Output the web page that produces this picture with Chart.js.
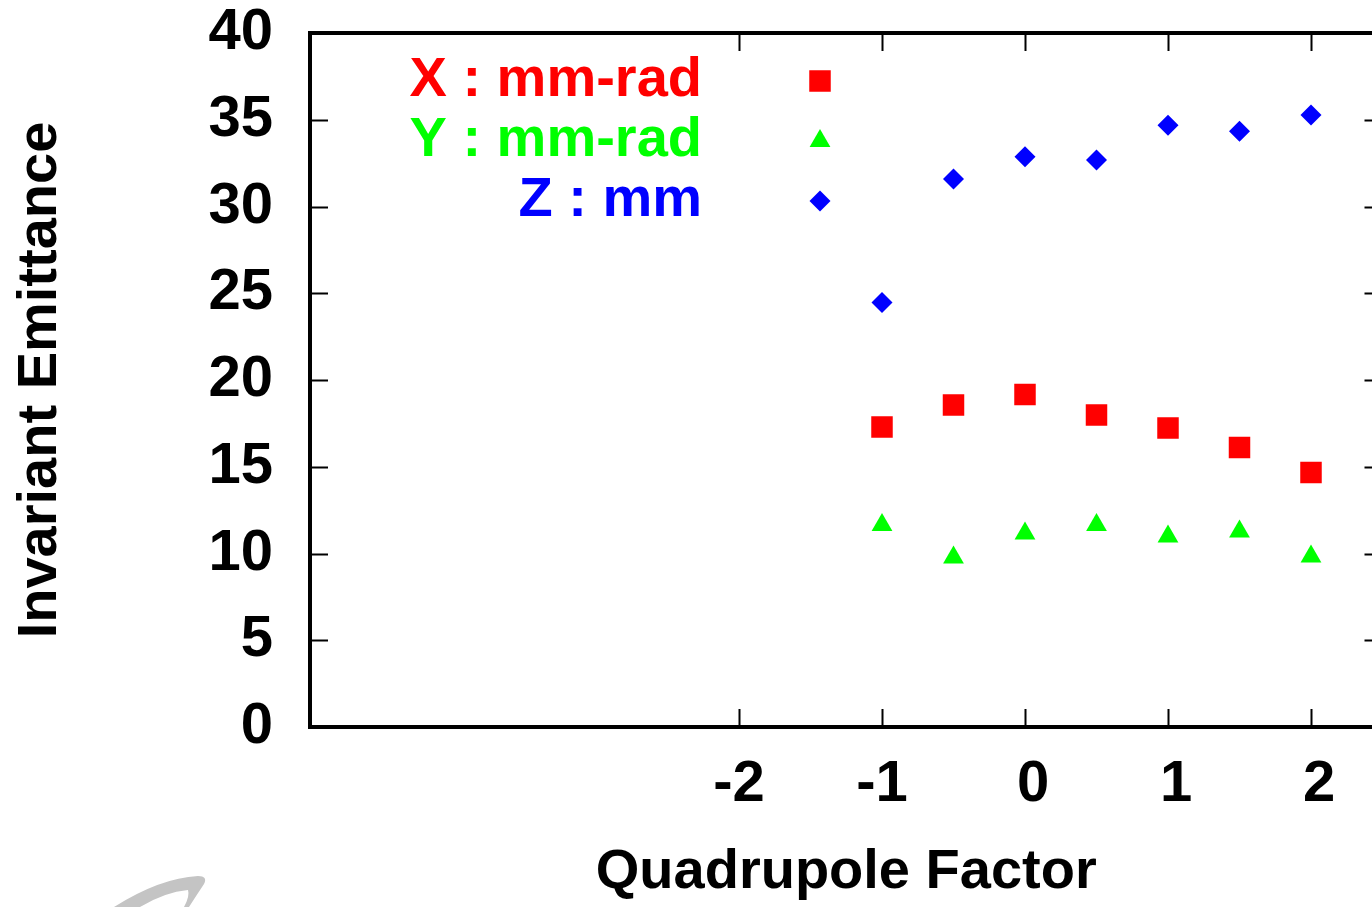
<!DOCTYPE html>
<html>
<head>
<meta charset="utf-8">
<script src="https://cdn.jsdelivr.net/npm/chart.js@4/dist/chart.umd.min.js"></script>
<style>
html,body{margin:0;padding:0;background:#fff;overflow:hidden;width:1372px;height:907px}
canvas{display:block}
</style>
</head>
<body>
<canvas id="c" width="1400" height="907" style="width:1400px;height:907px"></canvas>
<script>
// ---- data ----
const quadFactor = [-1, -0.5, 0, 0.5, 1, 1.5, 2];
const emitX = [17.29, 18.56, 19.16, 17.98, 17.23, 16.11, 14.67];
const emitY = [11.64, 9.77, 11.15, 11.64, 10.98, 11.27, 9.83];
const emitZ = [24.47, 31.58, 32.87, 32.68, 34.68, 34.33, 35.27];
const seriesNames = ['X : mm-rad', 'Y : mm-rad', 'Z : mm'];
const seriesColors = ['#ff0000', '#00ff00', '#0000ff'];
const xTickValues = [-2, -1, 0, 1, 2];
const xTickLabels = ['-2', '-1', ' 0', ' 1', ' 2'];
const yTickValues = [0, 5, 10, 15, 20, 25, 30, 35, 40];
const yTickLabels = ['0', '5', '10', '15', '20', '25', '30', '35', '40'];
const xTitle = 'Quadrupole Factor';
const yTitle = 'Invariant Emittance';

const FONT = "'Liberation Sans', Arial, Helvetica, sans-serif";

function pts(ys) { return quadFactor.map((x, i) => ({ x: x, y: ys[i] })); }

const framePlugin = {
  id: 'frame',
  afterDraw(chart) {
    const ctx = chart.ctx, a = chart.chartArea;
    const xs = chart.scales.x, ys = chart.scales.y;
    ctx.save();
    ctx.strokeStyle = '#000';
    ctx.lineWidth = 2;
    const tl = 18;
    ctx.beginPath();
    xTickValues.forEach(v => {
      const px = Math.round(xs.getPixelForValue(v)) + 0.5;
      ctx.moveTo(px, a.bottom); ctx.lineTo(px, a.bottom - tl);
      ctx.moveTo(px, a.top); ctx.lineTo(px, a.top + tl);
    });
    yTickValues.forEach(v => {
      const py = Math.round(ys.getPixelForValue(v)) + 0.5;
      ctx.moveTo(a.left, py); ctx.lineTo(a.left + tl, py);
      ctx.moveTo(a.right, py); ctx.lineTo(a.right - tl, py);
    });
    ctx.stroke();
    ctx.lineWidth = 4;
    ctx.strokeRect(a.left, a.top, a.right - a.left, a.bottom - a.top);
    ctx.restore();
  }
};

const legendPlugin = {
  id: 'keyLegend',
  afterDraw(chart) {
    const ctx = chart.ctx;
    ctx.save();
    ctx.font = 'bold 56px ' + FONT;
    ctx.textAlign = 'right';
    ctx.textBaseline = 'middle';
    const rows = [81, 141, 201];
    const mx = 820;
    seriesNames.forEach((name, i) => {
      ctx.fillStyle = seriesColors[i];
      ctx.fillText(name, 702, rows[i]);
      const cy = rows[i];
      ctx.beginPath();
      if (i === 0) {
        const h = 10.75;
        ctx.rect(mx - h, cy - h, 2 * h, 2 * h);
      } else if (i === 1) {
        const r = 12;
        ctx.moveTo(mx, cy - r);
        ctx.lineTo(mx + 0.866 * r, cy + 0.5 * r);
        ctx.lineTo(mx - 0.866 * r, cy + 0.5 * r);
        ctx.closePath();
      } else {
        const r = 10.5;
        ctx.moveTo(mx - r, cy); ctx.lineTo(mx, cy - r);
        ctx.lineTo(mx + r, cy); ctx.lineTo(mx, cy + r);
        ctx.closePath();
      }
      ctx.fill();
    });
    // faint watermark swoosh
    ctx.fillStyle = '#c4c4c4';
    ctx.beginPath();
    ctx.moveTo(114, 907);
    ctx.quadraticCurveTo(160, 878, 198, 876);
    ctx.quadraticCurveTo(208, 876, 204, 884);
    ctx.quadraticCurveTo(196, 896, 189, 907);
    ctx.lineTo(184, 907);
    ctx.quadraticCurveTo(190, 896, 188, 890);
    ctx.quadraticCurveTo(165, 892, 140, 907);
    ctx.closePath();
    ctx.fill();
    ctx.restore();
  }
};

const tickFont = { family: FONT, size: 58, weight: 'bold', lineHeight: 1 };
const titleFont = { family: FONT, size: 56, weight: 'bold', lineHeight: 1 };

new Chart(document.getElementById('c'), {
  type: 'scatter',
  data: {
    datasets: [
      { label: seriesNames[0], data: pts(emitX), pointStyle: 'rect', pointRadius: 15.2,
        backgroundColor: seriesColors[0], borderColor: seriesColors[0], pointBorderWidth: 0 },
      { label: seriesNames[1], data: pts(emitY), pointStyle: 'triangle', pointRadius: 12,
        backgroundColor: seriesColors[1], borderColor: seriesColors[1], pointBorderWidth: 0 },
      { label: seriesNames[2], data: pts(emitZ), pointStyle: 'rectRot', pointRadius: 10.5,
        backgroundColor: seriesColors[2], borderColor: seriesColors[2], pointBorderWidth: 0 }
    ]
  },
  options: {
    responsive: false,
    animation: false,
    events: [],
    layout: { padding: { top: 33, right: 17.5, left: 0, bottom: 0 } },
    plugins: { legend: { display: false }, tooltip: { enabled: false } },
    scales: {
      x: {
        type: 'linear', min: -5, max: 2.5,
        grid: { display: false, drawTicks: false },
        border: { display: false },
        afterBuildTicks: s => { s.ticks = xTickValues.map(v => ({ value: v })); },
        afterFit: s => { s.height = 180; s.paddingLeft = 0; s.paddingRight = 0; },
        ticks: {
          autoSkip: false, maxRotation: 0, minRotation: 0, padding: 29,
          color: '#000', font: tickFont,
          callback: v => xTickLabels[xTickValues.indexOf(v)]
        },
        title: { display: true, text: xTitle, color: '#000', font: titleFont,
          padding: { top: 0, bottom: 6 } }
      },
      y: {
        type: 'linear', min: 0, max: 40,
        grid: { display: false, drawTicks: false },
        border: { display: false },
        afterBuildTicks: s => { s.ticks = yTickValues.map(v => ({ value: v })); },
        afterFit: s => { s.width = 310; s.paddingTop = 0; s.paddingBottom = 0; },
        ticks: {
          autoSkip: false, padding: 37, color: '#000', font: tickFont,
          callback: v => yTickLabels[yTickValues.indexOf(v)]
        },
        title: { display: true, text: yTitle, color: '#000', font: titleFont,
          padding: { top: 13, bottom: 0 } }
      }
    }
  },
  plugins: [framePlugin, legendPlugin]
});
</script>
</body>
</html>
